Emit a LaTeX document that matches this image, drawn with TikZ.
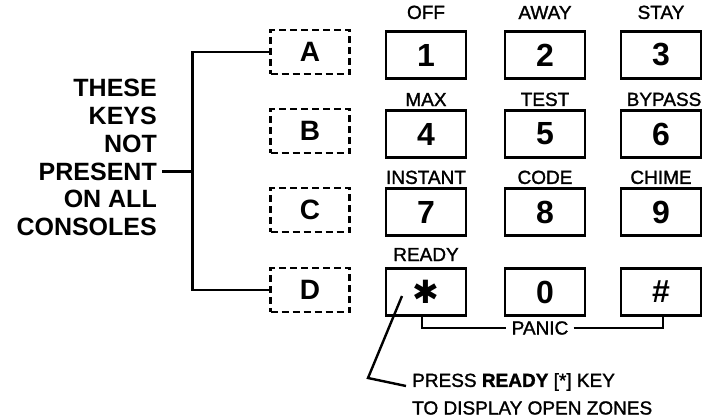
\documentclass[tikz,border=0pt]{standalone}
\usepackage{fontspec}
\setmainfont{Liberation Sans}
\newfontfamily\labelfont[FakeBold=1.4]{Liberation Sans}
\newfontfamily\symfont{DejaVu Sans}
\usetikzlibrary{positioning,calc}

\tikzset{
  keybox/.style={draw, line width=2.4pt, minimum width=80pt, minimum height=47pt, inner sep=0pt,
    font=\fontsize{32}{32}\selectfont\bfseries},
  optkey/.style={keybox, dash pattern=on 7pt off 4pt, minimum width=79pt, minimum height=44pt,
    font=\fontsize{28}{28}\selectfont\bfseries},
  keylabel/.style={inner sep=0pt, font=\fontsize{19}{19}\labelfont},
  sidetxt/.style={anchor=east, inner sep=0pt, font=\fontsize{25}{25}\selectfont\bfseries},
  lead/.style={line width=2.4pt},
}

\begin{document}
\begin{tikzpicture}[x=1pt,y=-1pt]
\useasboundingbox (0,0) rectangle (702,420);

% keys that only some consoles have
\node[optkey] (a) at (310,52) {A};
\node[optkey] (b) at (310,131) {B};
\node[optkey] (c) at (310,210) {C};
\node[optkey] (d) at (310,290) {D};

% keypad
\node[keybox] (k1) at (426,55) {1};
\node[keybox] (k2) at (545,55) {2};
\node[keybox] (k3) at (661,55) {3};
\node[keybox] (k4) at (426,134) {4};
\node[keybox] (k5) at (545,134) {5};
\node[keybox] (k6) at (661,134) {6};
\node[keybox] (k7) at (426,212) {7};
\node[keybox] (k8) at (545,212) {8};
\node[keybox] (k9) at (661,212) {9};
\node[keybox] (kstar) at (426,292) {\symfont\fontsize{32}{32}\selectfont ✱};
\node[keybox] (k0) at (545,292) {0};
\node[keybox] (khash) at (661,292) {\#};

% function names over the keys
\node[keylabel, above=11pt of k1] (off) {OFF};
\node[keylabel, above=11pt of k2] (away) {AWAY};
\node[keylabel, above=11pt of k3] (stay) {STAY};
\node[keylabel, above=3pt of k4] (max) {MAX};
\node[keylabel, above=3pt of k5] (test) {TEST};
\node[keylabel, above=3pt of k6, xshift=3pt] (bypass) {BYPASS};
\node[keylabel, above=3pt of k7] (instant) {INSTANT};
\node[keylabel, above=3pt of k8] (code) {CODE};
\node[keylabel, above=3pt of k9] (chime) {CHIME};
\node[keylabel, above=6pt of kstar] (ready) {READY};

% side note
\foreach \name/\txt [count=\i] in {these/THESE, keys/KEYS, not/NOT, present/PRESENT, onall/ON ALL, consoles/CONSOLES}
  \node[sidetxt] (\name) at (157,{88+27.8*(\i-1)}) {\txt};
\coordinate (brk) at ($(a.west)+(-77,0)$);
\draw[lead] (a.west) -- (brk) |- (d.west);
\draw[lead] ([xshift=5pt]present.east) -- (brk |- present.east);

% panic pair
\node[keylabel] (panic) at (540,328) {PANIC};
\draw[lead] ([xshift=-4pt]kstar.south) |- ([xshift=-5pt]panic.west);
\draw[lead] ([xshift=5pt]panic.east) -| ([xshift=2pt]khash.south);

% ready note
\node[keylabel, anchor=west] (press) at (412,382) {PRESS {\bfseries READY} [*] KEY};
\node[keylabel, below=10pt of press.south west, anchor=north west] (zones) {TO DISPLAY OPEN ZONES};
\coordinate (tip) at ($(kstar.center)+(-24,4)$);
\draw[lead] (tip) -- ($(press.west)+(-44,-4)$) -- ([xshift=-6pt,yshift=-4pt]press.west);
\end{tikzpicture}
\end{document}
